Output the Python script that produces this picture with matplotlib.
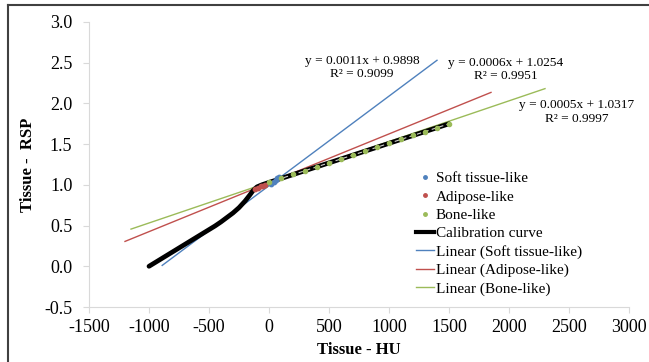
import numpy as np
import matplotlib
matplotlib.use('Agg')
import matplotlib.pyplot as plt
from matplotlib.lines import Line2D

plt.rcParams.update({'font.family': ['Liberation Serif', 'DejaVu Serif'],
                     'font.size': 11,
                     'axes.unicode_minus': False})

# calibration curve (HU -> RSP)
calib_hu  = [-1000, -950, -900, -850, -800, -750, -700, -650, -600, -550, -500, -450, -400,
             -350, -300, -250, -200, -160, -130, -100, -60, 0, 500, 1000, 1500]
calib_rsp = [0.00, 0.045, 0.09, 0.135, 0.18, 0.225, 0.27, 0.315, 0.36, 0.405, 0.45, 0.495, 0.545,
             0.60, 0.655, 0.72, 0.80, 0.875, 0.935, 0.975, 1.00, 1.03, 1.27, 1.51, 1.75]

# insert measurements
soft_hu  = [20, 40, 55, 70, 85]
soft_rsp = [1.01, 1.04, 1.06, 1.08, 1.10]
adip_hu  = [-120, -95, -70, -50, -30]
adip_rsp = [0.95, 0.96, 0.98, 0.99, 1.00]
bone_hu  = [0, 100, 200, 300, 400, 500, 600, 700, 800, 900, 1000, 1100, 1200, 1300, 1400, 1500]
bone_rsp = [1.03, 1.08, 1.13, 1.17, 1.22, 1.27, 1.32, 1.37, 1.41, 1.46, 1.51, 1.56, 1.61, 1.65, 1.70, 1.75]

# linear trend lines (slope, intercept, R2, x range)
fit_slope = [0.0011, 0.0006, 0.0005]
fit_icpt  = [0.9898, 1.0254, 1.0317]
fit_r2    = [0.9099, 0.9951, 0.9997]
fit_x0    = [-890, -1200, -1150]
fit_x1    = [1400, 1850, 2300]
fit_txt_xy = [(775, 2.445), (1975, 2.42), (2567, 1.895)]

c_blue, c_red, c_green = '#4F81BD', '#C0504D', '#9BBB59'
cols = [c_blue, c_red, c_green]
names = ['Soft tissue-like', 'Adipose-like', 'Bone-like']

fig = plt.figure(figsize=(6.49, 3.62), dpi=100)
ax = fig.add_axes([89/649, 1-307/362, 540/649, 285/362])

# trend lines
for k in range(3):
    xx = np.array([fit_x0[k], fit_x1[k]])
    ax.plot(xx, fit_slope[k]*xx + fit_icpt[k], color=cols[k], lw=1.0, zorder=2)
    tx, ty = fit_txt_xy[k]
    ax.text(tx, ty, 'y = %.4fx + %.4f\nR² = %.4f' % (fit_slope[k], fit_icpt[k], fit_r2[k]),
            ha='center', va='center', fontsize=9.6, multialignment='center', linespacing=1.15)

ax.plot(calib_hu, calib_rsp, color='black', lw=3.4, solid_capstyle='round',
        solid_joinstyle='round', zorder=3)
ax.plot(calib_hu[21:], calib_rsp[21:], color='#cfcfcf', lw=0.8, ls=(0, (4, 3)), zorder=4)
ax.scatter(soft_hu, soft_rsp, s=10, color=c_blue, zorder=5)
ax.scatter(adip_hu, adip_rsp, s=10, color=c_red, zorder=5)
ax.scatter(bone_hu, bone_rsp, s=9, color=c_green, zorder=6)

ax.set_xlim(-1500, 3000)
ax.set_ylim(-0.5, 3.0)
ax.set_xticks(np.arange(-1500, 3001, 500))
ax.set_yticks(np.arange(-0.5, 3.01, 0.5))
ax.set_yticklabels(['%.1f' % v for v in np.arange(-0.5, 3.01, 0.5)])
for s in ['top', 'right']:
    ax.spines[s].set_visible(False)
for s in ['left', 'bottom']:
    ax.spines[s].set_color('#d9d9d9')
    ax.spines[s].set_linewidth(0.8)
ax.tick_params(direction='out', length=4, color='#d9d9d9', labelsize=13)
ax.tick_params(axis='y', pad=8)
ax.tick_params(axis='x', pad=5)
ax.set_xlabel('Tissue - HU', fontweight='bold', fontsize=12, labelpad=4)
ax.set_ylabel('Tissue -  RSP', fontweight='bold', fontsize=12, labelpad=6)

handles = [
    Line2D([], [], ls='none', marker='o', ms=2.5, color=c_blue),
    Line2D([], [], ls='none', marker='o', ms=2.5, color=c_red),
    Line2D([], [], ls='none', marker='o', ms=2.5, color=c_green),
    Line2D([], [], color='black', lw=3),
    Line2D([], [], color=c_blue, lw=1),
    Line2D([], [], color=c_red, lw=1),
    Line2D([], [], color=c_green, lw=1),
]
labels = names + ['Calibration curve'] + ['Linear (%s)' % n for n in names]
ax.legend(handles, labels, loc='upper left', bbox_to_anchor=(0.605, 0.475),
          frameon=False, fontsize=11, handlelength=1.2, handletextpad=0.1,
          labelspacing=0.3, borderpad=0, borderaxespad=0)

# outer frame
fig.add_artist(Line2D([8/649, 1], [1-5/362, 1-5/362], transform=fig.transFigure, color='#404040', lw=1.5))
fig.add_artist(Line2D([8/649, 8/649], [0, 1-5/362], transform=fig.transFigure, color='#404040', lw=1.5))

fig.savefig('out.png', dpi=100)
